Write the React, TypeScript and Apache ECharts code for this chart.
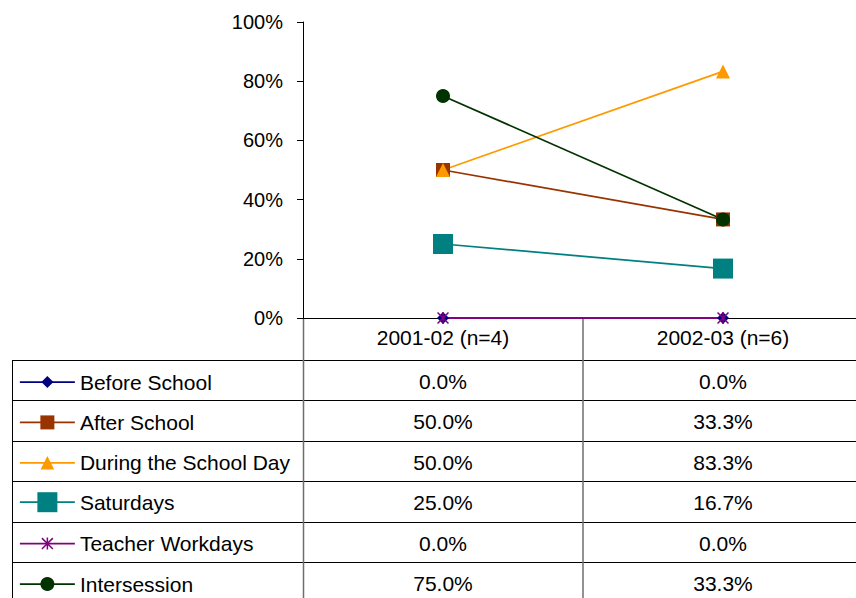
import React, { useEffect, useRef } from "react";
import * as echarts from "echarts";

const categories = ["2001-02 (n=4)", "2002-03 (n=6)"];
const beforeSchool = [0, 0];
const afterSchool = [50, 33.3];
const duringDay = [50, 83.3];
const saturdays = [25, 16.7];
const teacherWorkdays = [0, 0];
const intersession = [75, 33.3];
const yTicks = [0, 20, 40, 60, 80, 100];

const FONT = "'Liberation Sans', Arial, sans-serif";

const ASTERISK =
  "path://M5.25 0 L6.75 0 L6.75 12 L5.25 12 Z M1.06 0 L12 10.94 L10.94 12 L0 1.06 Z M10.94 0 L12 1.06 L1.06 12 L0 10.94 Z";

const seriesDefs = [
  { name: "Before School", data: beforeSchool, color: "#000080", symbol: "diamond", size: 12, legendH: 15 },
  { name: "After School", data: afterSchool, color: "#993300", symbol: "rect", size: 14, legendH: 17.5 },
  { name: "During the School Day", data: duringDay, color: "#FF9900", symbol: "triangle", size: 14, legendH: 17 },
  { name: "Saturdays", data: saturdays, color: "#008080", symbol: "rect", size: 20, legendH: 25 },
  { name: "Teacher Workdays", data: teacherWorkdays, color: "#800080", symbol: ASTERISK, size: 12, legendH: 15 },
  { name: "Intersession", data: intersession, color: "#003300", symbol: "circle", size: 14, legendH: 17.5 },
];

// layout
const VIEW_W = 856;
const W = 870; // chart is wider than the view; the plot runs past the right edge
const H = 598;
const gridLeft = 303;
const gridTop = 22;
const axisY = 318;
const plotRight = 863;
const tableLeft = 12;
const headerBottom = 360;
const rowH = 40.4;
const TFS = 21;

export default function App() {
  const ref = useRef<HTMLDivElement>(null);
  useEffect(() => {
    if (!ref.current) return;
    const chart = echarts.init(ref.current, undefined, { renderer: "svg" });
    const catW = (plotRight - gridLeft) / categories.length;
    const colCenter = categories.map((_, j) => gridLeft + (j + 0.5) * catW);
    const rowTop = (i: number) => headerBottom + i * rowH;
    const rowCenter = (i: number) => rowTop(i) + rowH / 2 + 1.3;

    const graphics: any[] = [];
    const lineH = "#000";
    const lineV = "#6e6e6e";
    for (let i = 0; i < seriesDefs.length; i++) {
      const y = Math.round(rowTop(i)) + 0.5;
      graphics.push({
        type: "line",
        shape: { x1: tableLeft, y1: y, x2: plotRight, y2: y },
        style: { stroke: lineH, lineWidth: 1 },
        silent: true,
      });
    }
    graphics.push({
      type: "line",
      shape: { x1: tableLeft + 0.5, y1: headerBottom, x2: tableLeft + 0.5, y2: H },
      style: { stroke: lineH, lineWidth: 1 },
      silent: true,
    });
    graphics.push({
      type: "line",
      shape: { x1: gridLeft + 0.5, y1: axisY, x2: gridLeft + 0.5, y2: H },
      style: { stroke: lineV, lineWidth: 1.5 },
      silent: true,
    });
    for (let j = 1; j <= categories.length; j++) {
      const x = gridLeft + j * catW;
      graphics.push({
        type: "line",
        shape: { x1: x, y1: axisY, x2: x, y2: H },
        style: { stroke: lineV, lineWidth: 1.5 },
        silent: true,
      });
    }
    seriesDefs.forEach((s, i) => {
      s.data.forEach((v, j) => {
        graphics.push({
          type: "text",
          x: colCenter[j],
          y: rowCenter(i),
          style: {
            text: `${v.toFixed(1)}%`,
            align: "center",
            verticalAlign: "middle",
            fontSize: TFS,
            fontFamily: FONT,
            fill: "#000",
          },
          silent: true,
        });
      });
    });

    const legends = seriesDefs.map((s, i) => ({
      data: [s.name],
      orient: "vertical",
      left: 19,
      top: rowCenter(i) + (s.legendH > 22 ? 1.5 : 1) - Math.max(s.legendH, 22) / 2,
      itemWidth: 55,
      itemHeight: s.legendH,
      itemGap: 0,
      padding: 0,
      selectedMode: false,
      lineStyle: { width: 1.75 },
      textStyle: { fontSize: TFS, color: "#000", fontFamily: FONT },
    }));

    chart.setOption({
      animation: false,
      backgroundColor: "#fff",
      textStyle: { fontFamily: FONT },
      grid: { left: gridLeft, top: gridTop, right: W - plotRight, bottom: H - axisY, containLabel: false },
      legend: legends,
      xAxis: {
        type: "category",
        data: categories,
        boundaryGap: true,
        axisLine: { show: true, lineStyle: { color: "#000", width: 1 } },
        axisTick: { show: false },
        axisLabel: { fontSize: TFS, color: "#000", margin: 9, fontFamily: FONT },
        splitLine: { show: false },
      },
      yAxis: {
        type: "value",
        min: yTicks[0],
        max: yTicks[yTicks.length - 1],
        interval: 20,
        axisLine: { show: true, lineStyle: { color: "#000", width: 1 } },
        axisTick: { show: true, length: 6, lineStyle: { color: "#000" } },
        axisLabel: { fontSize: 20, color: "#000", margin: 20, formatter: "{value}%", fontFamily: FONT },
        splitLine: { show: false },
      },
      series: seriesDefs.map((s) => ({
        name: s.name,
        type: "line",
        data: s.data,
        symbol: s.symbol,
        symbolSize: s.size,
        showAllSymbol: true,
        color: s.color,
        lineStyle: { color: s.color, width: 1.75 },
        itemStyle: { color: s.color },
        emphasis: { disabled: true },
      })),
      graphic: graphics,
    });
    return () => chart.dispose();
  }, []);
  return (
    <div style={{ position: "absolute", left: 0, top: 0, width: VIEW_W, height: H, overflow: "hidden", background: "#fff" }}>
      <div ref={ref} style={{ width: W, height: H }} />
    </div>
  );
}
